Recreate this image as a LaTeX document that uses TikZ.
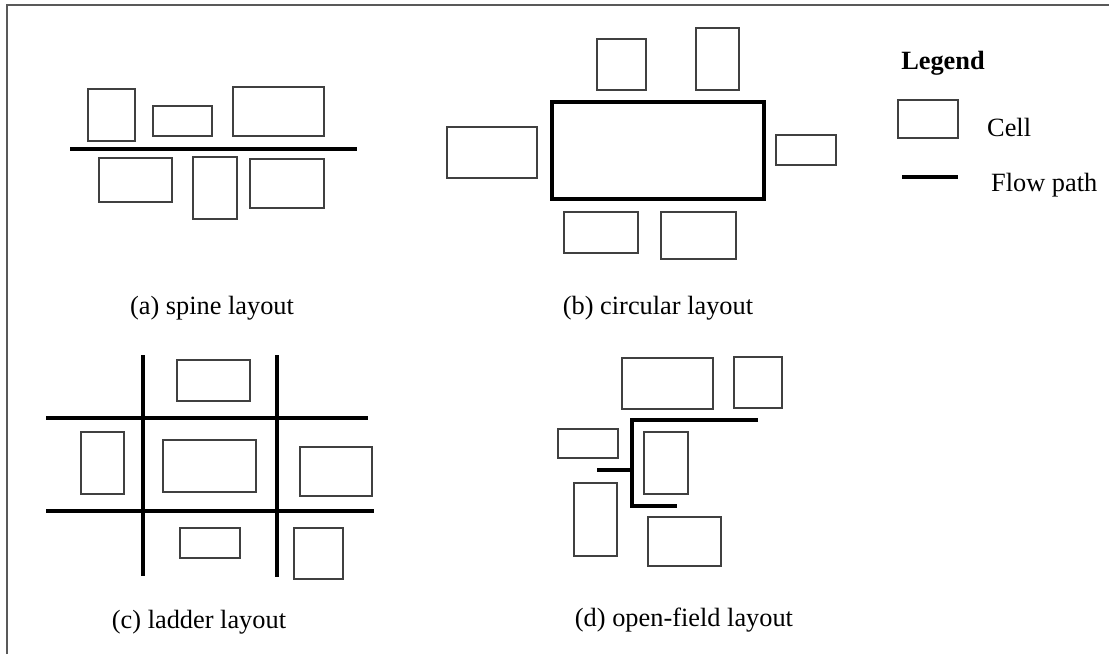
\documentclass[tikz,border=0pt]{standalone}
\usepackage{fontspec}
\setmainfont{Liberation Serif}
\begin{document}
\begin{tikzpicture}[x=0.02cm,y=-0.02cm,
  cell/.style={draw=black!75,line width=0.9pt},
  flow/.style={line width=2.8pt},
  ring/.style={line width=2.3pt},
  lbl/.style={font=\fontsize{15}{18}\selectfont}]
  \useasboundingbox (0,0) rectangle (1109,654);
  \draw[black!65,line width=0.9pt] (7,654) -- (7,5) -- (1109,5);

  \draw[cell] (88,89) rectangle (135,141);
  \draw[cell] (153,106) rectangle (212,136);
  \draw[cell] (233,87) rectangle (324,136);
  \draw[flow] (70,149) -- (357,149);
  \draw[cell] (99,158) rectangle (172,202);
  \draw[cell] (193,157) rectangle (237,219);
  \draw[cell] (250,159) rectangle (324,208);
  \node[lbl] (capa) at (212,308) {(a) spine layout};

  \draw[cell] (597,39) rectangle (646,90);
  \draw[cell] (696,28) rectangle (739,90);
  \draw[ring] (552,102) rectangle (764,199);
  \draw[cell] (447,127) rectangle (537,178);
  \draw[cell] (776,135) rectangle (836,165);
  \draw[cell] (564,212) rectangle (638,253);
  \draw[cell] (661,212) rectangle (736,259);
  \node[lbl] (capb) at (658,308) {(b) circular layout};

  \node[lbl,font=\fontsize{15}{18}\selectfont\bfseries] (legend) at (943,63) {Legend};
  \draw[cell] (898,100) rectangle (958,138);
  \node[lbl,anchor=west] (cell) at (981,127) {Cell};
  \draw[flow] (902,177) -- (958,177);
  \node[lbl,anchor=west] (flow) at (985,185) {Flow path};

  \draw[flow] (143,355) -- (143,576);
  \draw[flow] (277,355) -- (277,577);
  \draw[flow] (46,418) -- (368,418);
  \draw[flow] (46,511) -- (374,511);
  \draw[cell] (177,360) rectangle (250,401);
  \draw[cell] (81,432) rectangle (124,494);
  \draw[cell] (163,440) rectangle (256,492);
  \draw[cell] (300,447) rectangle (372,496);
  \draw[cell] (180,528) rectangle (240,558);
  \draw[cell] (294,528) rectangle (343,579);
  \node[lbl] (capc) at (199,622) {(c) ladder layout};

  \draw[cell] (622,358) rectangle (713,409);
  \draw[cell] (734,357) rectangle (782,408);
  \draw[cell] (558,429) rectangle (618,458);
  \draw[cell] (644,432) rectangle (688,494);
  \draw[cell] (574,483) rectangle (617,556);
  \draw[cell] (648,517) rectangle (721,566);
  \draw[flow] (758,420) -- (632,420) -- (632,506) -- (677,506);
  \draw[flow] (597,470) -- (632,470);
  \node[lbl] (capd) at (684,620) {(d) open-field layout};
\end{tikzpicture}
\end{document}
